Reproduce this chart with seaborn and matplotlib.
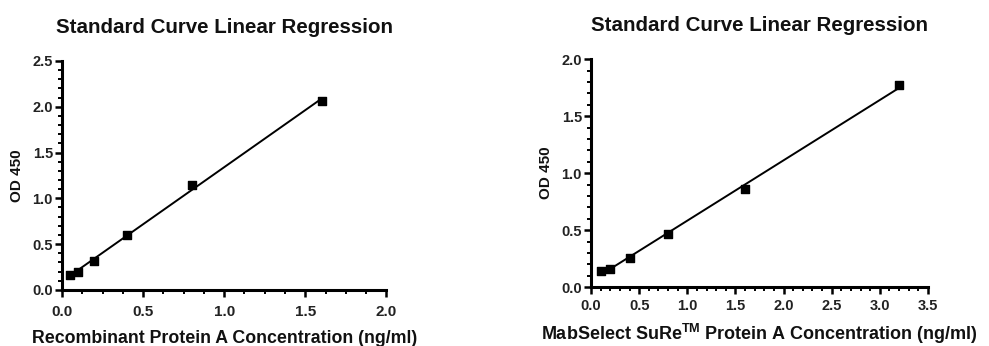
import numpy as np
import pandas as pd
import matplotlib
matplotlib.use("Agg")
import matplotlib.pyplot as plt
import seaborn as sns
from matplotlib.ticker import MultipleLocator, FormatStrFormatter

# standard curve data
conc_recomb = [0.05, 0.1, 0.2, 0.4, 0.8, 1.6]
od_recomb = [0.16, 0.20, 0.32, 0.60, 1.15, 2.06]

conc_mab = [0.1, 0.2, 0.4, 0.8, 1.6, 3.2]
od_mab = [0.14, 0.16, 0.26, 0.47, 0.86, 1.77]

title = "Standard Curve Linear Regression"
xlabel_left = "Recombinant Protein A Concentration (ng/ml)"
xlabel_right = r"MabSelect SuRe$^{\mathbf{TM}}$ Protein A Concentration (ng/ml)"

sns.set_style("ticks")
plt.rcParams["font.family"] = ["Liberation Sans", "DejaVu Sans"]
plt.rcParams["mathtext.fontset"] = "custom"
plt.rcParams["mathtext.bf"] = "Liberation Sans:bold"
plt.rcParams["mathtext.rm"] = "Liberation Sans"
plt.rcParams["text.color"] = "#111111"
plt.rcParams["axes.labelcolor"] = "#111111"
plt.rcParams["axes.edgecolor"] = "black"
plt.rcParams["xtick.color"] = "black"
plt.rcParams["ytick.color"] = "black"
plt.rcParams["xtick.labelcolor"] = "#222222"
plt.rcParams["ytick.labelcolor"] = "#222222"

fig = plt.figure(figsize=(9.89, 3.46), dpi=100)
ax1 = fig.add_axes([0.0627, 0.162, 0.328, 0.662])
ax2 = fig.add_axes([0.5976, 0.170, 0.3407, 0.659])

df1 = pd.DataFrame({"conc": conc_recomb, "od": od_recomb})
df2 = pd.DataFrame({"conc": conc_mab, "od": od_mab})

settings = [
    # ax, data, xlabel, xmax, ymax, x minor step, xtick size, xtick pad, xlabel size, labelpad
    (ax1, df1, xlabel_left, 2.0, 2.5, 0.125, 11, 5.5, 12.8, 8),
    (ax2, df2, xlabel_right, 3.5, 2.0, 0.1, 10.5, 3.5, 13.0, 6.5),
]

for ax, df, xl, xmax, ymax, xminor, xts, xpad, xls, lpad in settings:
    sns.regplot(data=df, x="conc", y="od", ax=ax, ci=None, marker="s",
                color="black",
                scatter_kws={"s": 40, "alpha": 1, "edgecolor": "black", "zorder": 3},
                line_kws={"linewidth": 1.4})
    ax.set_xlim(0, xmax)
    ax.set_ylim(0, ymax)
    ax.xaxis.set_major_locator(MultipleLocator(0.5))
    ax.yaxis.set_major_locator(MultipleLocator(0.5))
    ax.xaxis.set_minor_locator(MultipleLocator(xminor))
    ax.yaxis.set_minor_locator(MultipleLocator(0.1))
    ax.xaxis.set_major_formatter(FormatStrFormatter("%.1f"))
    ax.yaxis.set_major_formatter(FormatStrFormatter("%.1f"))
    for s in ["top", "right"]:
        ax.spines[s].set_visible(False)
    for s in ["left", "bottom"]:
        ax.spines[s].set_linewidth(2.2)
    ax.tick_params(which="major", length=5, width=1.8)
    ax.tick_params(which="minor", length=3, width=1.4)
    ax.tick_params(axis="x", which="major", labelsize=xts, pad=xpad)
    ax.tick_params(axis="y", which="major", labelsize=10.5, pad=1.5)
    for lab in ax.get_xticklabels() + ax.get_yticklabels():
        lab.set_fontweight("bold")
    ax.set_xlabel(xl, fontsize=xls, fontweight="bold", labelpad=lpad)
    ax.set_ylabel("OD 450", fontsize=11, fontweight="bold", labelpad=6)
    ax.set_title(title, fontsize=14.8, fontweight="bold", pad=20)
    for c in ax.collections:
        c.set_clip_on(False)

fig.savefig("out.png", dpi=100)
